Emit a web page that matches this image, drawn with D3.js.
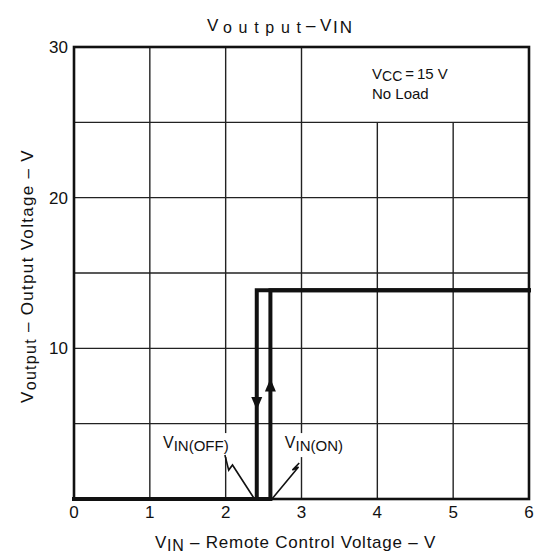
<!DOCTYPE html>
<html>
<head>
<meta charset="utf-8">
<script src="https://cdn.jsdelivr.net/npm/d3@7"></script>
<style>
  html, body { margin: 0; padding: 0; background: #fff; }
  svg { display: block; }
  text { font-family: "Liberation Sans", Arial, Helvetica, sans-serif; fill: #111; }
</style>
</head>
<body>
<svg id="chart" width="545" height="559"></svg>
<script>
// ---- data ----
const xTicks = [0, 1, 2, 3, 4, 5, 6];
const xGridFull = [1, 2, 3];      // vertical grid lines reaching the top
const xGridShort = [4, 5];        // vertical grid lines stopping at 25 V (note box)
const yGrid = [5, 10, 15, 20, 25];
const yTickLabels = [10, 20, 30];
const xDomain = [0, 6];
const yDomain = [0, 30];
const noteBoxTop = 25;

// V_IN(ON) rising branch and V_IN(OFF) falling branch (V_IN, V_output)
const onX = [0, 2.59, 2.59, 6];
const onY = [0, 0, 13.85, 13.85];
const offX = [6, 2.41, 2.41];
const offY = [13.85, 13.85, 0];

// arrows: position of tip on each branch
const arrowX = [2.41, 2.59];
const arrowY = [5.9, 8.0];
const arrowDir = ["down", "up"];

// callout leader lines (data units)
const offLeaderX = [1.99, 2.04, 2.09, 2.38];
const offLeaderY = [2.92, 1.92, 2.26, 0];
const onLeaderX = [2.97, 2.88, 2.96, 2.61];
const onLeaderY = [2.39, 1.92, 2.12, 0];

// ---- layout ----
const svg = d3.select("#chart");
const x = d3.scaleLinear().domain(xDomain).range([74, 529]);
const y = d3.scaleLinear().domain(yDomain).range([499, 47]);

const g = svg.append("g");

// grid
g.selectAll("line.vg").data(xGridFull).enter().append("line")
  .attr("x1", d => x(d)).attr("x2", d => x(d))
  .attr("y1", y(0)).attr("y2", y(30))
  .attr("stroke", "#222").attr("stroke-width", 1.4);
g.selectAll("line.vs").data(xGridShort).enter().append("line")
  .attr("x1", d => x(d)).attr("x2", d => x(d))
  .attr("y1", y(0)).attr("y2", y(noteBoxTop))
  .attr("stroke", "#222").attr("stroke-width", 1.4);
g.selectAll("line.hg").data(yGrid).enter().append("line")
  .attr("x1", x(0)).attr("x2", x(6))
  .attr("y1", d => y(d)).attr("y2", d => y(d))
  .attr("stroke", "#222").attr("stroke-width", 1.4);

// frame
g.append("rect")
  .attr("x", x(0)).attr("y", y(30))
  .attr("width", x(6) - x(0)).attr("height", y(0) - y(30))
  .attr("fill", "none").attr("stroke", "#111").attr("stroke-width", 2.6);

// callout labels (with white backing that interrupts grid lines)
function callout(xv, yv, anchor, sub) {
  const grp = g.append("g");
  const t = grp.append("text").attr("x", x(xv)).attr("y", y(yv))
    .attr("text-anchor", anchor).attr("font-size", 16);
  t.append("tspan").text("V");
  t.append("tspan").attr("dy", 3).attr("font-size", 15).text(sub);
  const bb = t.node().getBBox();
  grp.insert("rect", "text")
    .attr("x", bb.x - 2).attr("y", bb.y - 1)
    .attr("width", bb.width + 4).attr("height", bb.height + 4)
    .attr("fill", "#fff");
}
callout(2.04, 3.38, "end", "IN(OFF)");
callout(2.78, 3.38, "start", "IN(ON)");

// curves
const line = d3.line().x(d => x(d[0])).y(d => y(d[1]));
const onPts = onX.map((v, i) => [v, onY[i]]);
const offPts = offX.map((v, i) => [v, offY[i]]);
[onPts, offPts].forEach(p => {
  g.append("path").attr("d", line(p))
    .attr("fill", "none").attr("stroke", "#111")
    .attr("stroke-width", 4).attr("stroke-linejoin", "miter").attr("stroke-linecap", "square");
});

// arrowheads
arrowX.forEach((ax, i) => {
  const tx = x(ax), ty = y(arrowY[i]);
  const s = arrowDir[i] === "down" ? -1 : 1;
  const len = 13, hw = 5.5;
  g.append("path")
    .attr("d", `M${tx},${ty} L${tx - hw},${ty + s * len} L${tx + hw},${ty + s * len} Z`)
    .attr("fill", "#111");
});

// leader lines
const offL = offLeaderX.map((v, i) => [v, offLeaderY[i]]);
const onL = onLeaderX.map((v, i) => [v, onLeaderY[i]]);
[offL, onL].forEach(p => {
  g.append("path").attr("d", line(p))
    .attr("fill", "none").attr("stroke", "#111").attr("stroke-width", 1.6)
    .attr("stroke-linejoin", "miter");
});

// x tick labels
g.selectAll("text.xt").data(xTicks).enter().append("text")
  .attr("x", d => x(d)).attr("y", 518)
  .attr("text-anchor", "middle").attr("font-size", 17)
  .text(d => d);

// y tick labels
g.selectAll("text.yt").data(yTickLabels).enter().append("text")
  .attr("x", 68).attr("y", d => y(d) + 6)
  .attr("text-anchor", "end").attr("font-size", 17)
  .text(d => d);

// title
const title = g.append("text").attr("y", 31).attr("font-size", 17);
title.append("tspan").attr("x", 207).text("V");
title.append("tspan").attr("x", 223).attr("dy", 2).attr("font-size", 16)
  .attr("textLength", 78).attr("lengthAdjust", "spacing").text("output");
title.append("tspan").attr("x", 306).attr("dy", -2).text("\u2013");
title.append("tspan").attr("x", 320).text("V");
title.append("tspan").attr("x", 333).attr("dy", 2).attr("font-size", 17)
  .attr("textLength", 19).attr("lengthAdjust", "spacing").text("IN");

// x axis label
const xl = g.append("text").attr("x", 155).attr("y", 548).attr("font-size", 17).attr("letter-spacing", 0.75);
xl.append("tspan").text("V");
xl.append("tspan").attr("dy", 3).attr("font-size", 16).text("IN");
xl.append("tspan").attr("dy", -3).text(" \u2013 Remote Control Voltage \u2013 V");

// y axis label
const yl = g.append("text")
  .attr("transform", `translate(33,276) rotate(-90)`)
  .attr("text-anchor", "middle").attr("font-size", 17).attr("letter-spacing", 1.3);
yl.append("tspan").text("V");
yl.append("tspan").attr("dy", 3).attr("font-size", 16).text("output");
yl.append("tspan").attr("dy", -3).text(" \u2013 Output Voltage \u2013 V");

// conditions
const c1 = g.append("text").attr("x", 372).attr("y", 79).attr("font-size", 15);
c1.append("tspan").text("V");
c1.append("tspan").attr("dy", 2).attr("font-size", 14).text("CC");
c1.append("tspan").attr("dy", -2).text("\u2009=\u200915 V");
g.append("text").attr("x", 372).attr("y", 99).attr("font-size", 15).text("No Load");
</script>
</body>
</html>
